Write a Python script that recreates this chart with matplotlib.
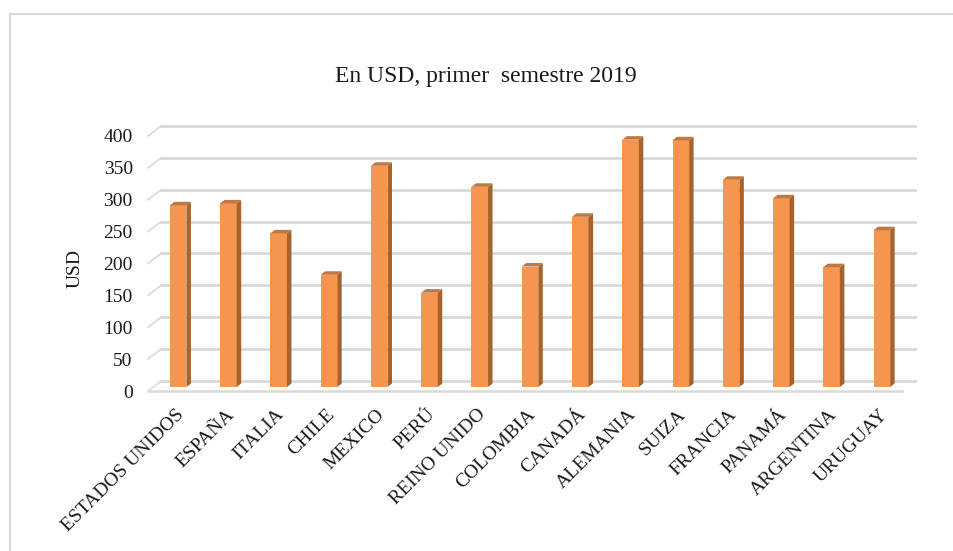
import numpy as np
import matplotlib
matplotlib.use('Agg')
import matplotlib.pyplot as plt
from matplotlib.patches import Polygon
from matplotlib.lines import Line2D
from matplotlib.transforms import ScaledTranslation

# ---------------- data ----------------
categories = ['ESTADOS UNIDOS', 'ESPAÑA', 'ITALIA', 'CHILE', 'MEXICO', 'PERÚ',
              'REINO UNIDO', 'COLOMBIA', 'CANADÁ', 'ALEMANIA', 'SUIZA',
              'FRANCIA', 'PANAMÁ', 'ARGENTINA', 'URUGUAY']
values = [285, 288, 241, 176, 347, 148, 314, 189, 267, 388, 387, 325, 296, 188, 246]
yticks = [0, 50, 100, 150, 200, 250, 300, 350, 400]
title = 'En USD, primer  semestre 2019'
ylabel = 'USD'

# ---------------- style ----------------
W, H, DPI = 954, 551, 100
FRONT = '#F5954E'
SIDE = '#A5642F'
TOP = '#BE7841'
GRID = '#D9D9D9'
FONT = ['Liberation Serif', 'DejaVu Serif']
plt.rcParams['font.family'] = FONT

fig = plt.figure(figsize=(W / DPI, H / DPI), dpi=DPI)
fig.patch.set_facecolor('white')

# chart frame (top and left edges visible)
fig.add_artist(Line2D([10 / W, 10 / W], [0, 1 - 14 / H], color=GRID, lw=1.5))
fig.add_artist(Line2D([10 / W, 1], [1 - 14 / H, 1 - 14 / H], color=GRID, lw=1.5))

ax = fig.add_axes([148 / W, (H - 391) / H, 754 / W, 255 / H])
n = len(categories)
x = np.arange(n)
ax.set_xlim(-0.5, n - 0.5)
ax.set_ylim(yticks[0], yticks[-1])
ax.patch.set_alpha(0)
for s in ax.spines.values():
    s.set_visible(False)

# pixel -> data conversion for the pseudo-3D depth
ppx = 754 / n
ppy = 255 / (yticks[-1] - yticks[0])
wall_dx, wall_dy = 13 / ppx, 10 / ppy      # back wall offset
bar_dx, bar_dy = 5 / ppx, 4 / ppy          # bar front plane offset
dep_dx, dep_dy = 4.5 / ppx, 3.5 / ppy      # bar depth
bw = 0.33

x0, x1 = -0.5, n - 0.5
# back wall gridlines + left wall diagonals
for v in yticks:
    ax.plot([x0 + wall_dx, x1 + wall_dx], [v + wall_dy, v + wall_dy],
            color=GRID, lw=2.0, clip_on=False, zorder=1)
    ax.plot([x0, x0 + wall_dx], [v, v + wall_dy],
            color=GRID, lw=1.2, clip_on=False, zorder=1)
# floor front edge
ax.plot([x0, x1], [0, 0], color=GRID, lw=1.8, clip_on=False, zorder=1)

# bars
ax.bar(x + bar_dx, values, width=bw, bottom=bar_dy, color=FRONT,
       edgecolor='none', zorder=3, clip_on=False)
for xi, v in zip(x, values):
    l = xi + bar_dx - bw / 2
    r = xi + bar_dx + bw / 2
    b = bar_dy
    t = bar_dy + v
    ax.add_patch(Polygon([(r, b), (r, t), (r + dep_dx, t + dep_dy), (r + dep_dx, b + dep_dy)],
                         closed=True, facecolor=SIDE, edgecolor='none', zorder=3, clip_on=False))
    ax.add_patch(Polygon([(l, t), (r, t), (r + dep_dx, t + dep_dy), (l + dep_dx, t + dep_dy)],
                         closed=True, facecolor=TOP, edgecolor='none', zorder=3, clip_on=False))

# axis ticks
ax.set_yticks(yticks)
ax.set_yticklabels([str(v) for v in yticks], fontsize=14, color='#1a1a1a')
ax.tick_params(axis='y', length=0, pad=11)
ax.set_xticks([])

lab_tr = ax.transData + ScaledTranslation(8 / DPI, -21 / DPI, fig.dpi_scale_trans)
for xi, c in zip(x, categories):
    ax.text(xi, 0, c, transform=lab_tr, rotation=45, ha='right', va='center',
            rotation_mode='anchor', fontsize=14, color='#1a1a1a')

fig.text(75 / W, 1 - 268 / H, ylabel, rotation=90, ha='center', va='center',
         fontsize=14, color='#1a1a1a')
fig.text(486 / W, 1 - 76 / H, title, ha='center', va='center',
         fontsize=17, color='#1a1a1a')

fig.savefig('out.png', dpi=DPI, facecolor='white')
